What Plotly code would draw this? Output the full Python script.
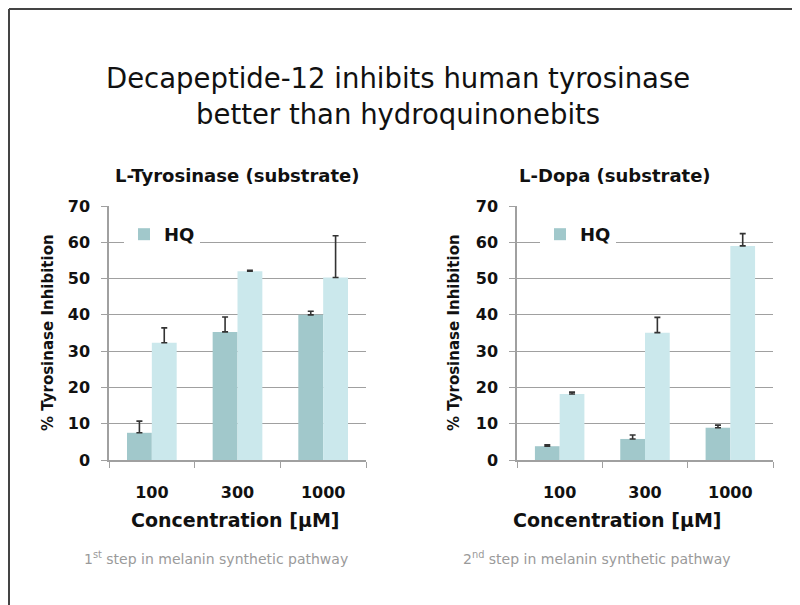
import plotly.graph_objects as go

concentrations = ["100", "300", "1000"]

tyr_hq = [7.5, 35.3, 40.0]
tyr_hq_err = [3.2, 4.1, 1.0]
tyr_dp = [32.3, 52.0, 50.3]
tyr_dp_err = [4.1, 0.3, 11.5]

dopa_hq = [3.8, 5.8, 8.9]
dopa_hq_err = [0.4, 1.1, 0.7]
dopa_dp = [18.2, 35.1, 59.0]
dopa_dp_err = [0.5, 4.2, 3.4]

y_ticks = [0, 10, 20, 30, 40, 50, 60, 70]

DARK = "#a1c8cb"
LIGHT = "#cbe8ec"
ERR = "#333333"
GRID = "#a0a0a0"
FONT = "DejaVu Sans"
INK = "#111111"

W, H = 800, 605
OFF = 8  # page body margin of the viewer


def px_x(x):
    return (x - OFF) / W


def px_y(y):
    return 1 - (y - OFF) / H


def err(vals):
    return dict(type="data", array=vals, arrayminus=[0] * len(vals), symmetric=False,
                color=ERR, thickness=1.6, width=3)


fig = go.Figure()
fig.add_trace(go.Bar(x=concentrations, y=tyr_hq, name="HQ", marker=dict(color=DARK, line=dict(width=0)),
                     error_y=err(tyr_hq_err), xaxis="x", yaxis="y", legend="legend", offsetgroup="a"))
fig.add_trace(go.Bar(x=concentrations, y=tyr_dp, name="Decapeptide-12", showlegend=False,
                     marker=dict(color=LIGHT, line=dict(width=0)),
                     error_y=err(tyr_dp_err), xaxis="x", yaxis="y", offsetgroup="b"))
fig.add_trace(go.Bar(x=concentrations, y=dopa_hq, name="HQ", marker=dict(color=DARK, line=dict(width=0)),
                     error_y=err(dopa_hq_err), xaxis="x2", yaxis="y2", legend="legend2", offsetgroup="a"))
fig.add_trace(go.Bar(x=concentrations, y=dopa_dp, name="Decapeptide-12", showlegend=False,
                     marker=dict(color=LIGHT, line=dict(width=0)),
                     error_y=err(dopa_dp_err), xaxis="x2", yaxis="y2", offsetgroup="b"))

xax = dict(type="category", tickson="boundaries", ticks="outside", ticklen=6, tickcolor=GRID,
           showline=True, linecolor=GRID, linewidth=1.5, showgrid=False, zeroline=False,
           tickfont=dict(family=FONT, size=16, color=INK, weight="bold"), ticklabelstandoff=17,
           automargin=False, fixedrange=True)
yax = dict(range=[0, 70], tickvals=y_ticks, ticks="outside", ticklen=6, tickcolor=GRID,
           showline=True, linecolor=GRID, linewidth=1.5, showgrid=True, gridcolor=GRID, gridwidth=1.2,
           zeroline=False, tickfont=dict(family=FONT, size=16, color=INK, weight="bold"),
           ticklabelstandoff=8, automargin=False, fixedrange=True)

yd = [px_y(460), px_y(206)]

leg = dict(xanchor="left", yanchor="top", bgcolor="white",
           font=dict(family=FONT, size=18, color=INK, weight="bold"), entrywidth=60,
           itemwidth=30, borderwidth=0)

fig.update_layout(
    width=W, height=H,
    margin=dict(l=0, r=0, t=0, b=0, autoexpand=False),
    paper_bgcolor="white", plot_bgcolor="white",
    barmode="group", bargap=0.42, bargroupgap=0,
    font=dict(family=FONT, color=INK),
    xaxis=dict(xax, domain=[px_x(109), px_x(366)], anchor="y"),
    yaxis=dict(yax, domain=yd, anchor="x"),
    xaxis2=dict(xax, domain=[px_x(517), px_x(773)], anchor="y2"),
    yaxis2=dict(yax, domain=yd, anchor="x2"),
    legend=dict(leg, x=px_x(124), y=px_y(216)),
    legend2=dict(leg, x=px_x(540), y=px_y(216)),
    shapes=[
        dict(type="line", xref="paper", yref="paper", x0=px_x(9), x1=1.0, y0=px_y(9), y1=px_y(9),
             line=dict(color="#444444", width=2)),
        dict(type="line", xref="paper", yref="paper", x0=px_x(9), x1=px_x(9), y0=0.0, y1=px_y(9),
             line=dict(color="#444444", width=2)),
    ],
)

ann = []


def add(text, x, y, size, bold=False, color=INK, angle=0):
    ann.append(dict(text=text, x=px_x(x), y=px_y(y), xref="paper", yref="paper", showarrow=False,
                    xanchor="center", yanchor="middle", textangle=angle, align="center",
                    font=dict(family=FONT, size=size, color=color,
                              weight="bold" if bold else "normal")))


add("Decapeptide-12 inhibits human tyrosinase<br>better than hydroquinonebits", 398, 96, 27.5)
add("L-Tyrosinase (substrate)", 237, 175, 18, bold=True)
add("L-Dopa (substrate)", 615, 175, 18, bold=True)
add("% Tyrosinase Inhibition", 48, 333, 15, bold=True, angle=-90)
add("% Tyrosinase Inhibition", 454, 333, 15, bold=True, angle=-90)
add("Concentration [µM]", 236, 520, 19, bold=True)
add("Concentration [µM]", 617, 520, 19, bold=True)
add("1<sup>st</sup> step in melanin synthetic pathway", 216, 558, 14, color="#9a9a9a")
add("2<sup>nd</sup> step in melanin synthetic pathway", 597, 558, 14, color="#9a9a9a")
fig.update_layout(annotations=ann)

fig.write_html("out.html")
